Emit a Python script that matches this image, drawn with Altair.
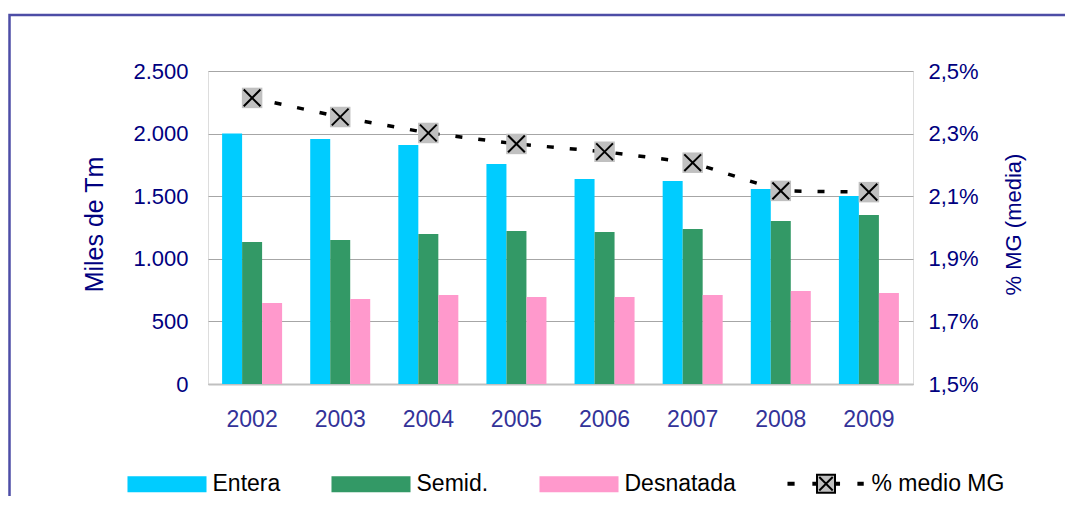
import altair as alt
import pandas as pd

# ---- data ----
years = ["2002", "2003", "2004", "2005", "2006", "2007", "2008", "2009"]
entera = [2000, 1957, 1909, 1757, 1637, 1621, 1557, 1501]
semid = [1134, 1150, 1198, 1222, 1214, 1238, 1302, 1350]
desnatada = [647, 679, 711, 695, 695, 711, 743, 727]
mg_pct = [2.414, 2.353, 2.302, 2.267, 2.242, 2.207, 2.117, 2.113]

bar_series = ["Entera", "Semid.", "Desnatada"]
line_series = "% medio MG"
all_series = bar_series + [line_series]

fill_colors = ["#00CCFF", "#339966", "#FF99CC", "#C0C0C0"]
stroke_colors = ["#00CCFF", "#339966", "#FF99CC", "#000000"]

rect_path = "M-0.975,-0.177H0.975V0.177H-0.975Z"
line_legend_path = (
    "M-0.95,-0.025H-0.82V0.025H-0.95Z "
    "M-0.32,-0.025H-0.26V0.025H-0.32Z "
    "M-0.228,-0.228H0.228V0.228H-0.228Z "
    "M-0.17,-0.17L0.17,0.17M0.17,-0.17L-0.17,0.17 "
    "M0.26,-0.025H0.33V0.025H0.26Z "
    "M0.82,-0.025H0.93V0.025H0.82Z"
)
shape_range = [rect_path, rect_path, rect_path, line_legend_path]

FONT = "Liberation Sans"
NAVY = "#000080"

rows = []
for i, y in enumerate(years):
    rows.append({"year": y, "series": "Entera", "value": entera[i]})
    rows.append({"year": y, "series": "Semid.", "value": semid[i]})
    rows.append({"year": y, "series": "Desnatada", "value": desnatada[i]})
bars_df = pd.DataFrame(rows)
line_df = pd.DataFrame({"year": years, "pct": mg_pct, "series": [line_series] * len(years)})

x_scale = alt.Scale(paddingInner=0.319, paddingOuter=0.16)
x_axis = alt.Axis(
    title=None, labelAngle=0, labelFontSize=23, labelColor="#333399", labelFont=FONT,
    ticks=False, domainColor="#C0C0C0", domainWidth=2, labelPadding=24, grid=False,
)

legend = alt.Legend(
    title=None, orient="none", legendX=-81.5, legendY=372, direction="horizontal",
    symbolSize=6241, symbolStrokeWidth=2, symbolOpacity=1, columnPadding=47, labelOffset=5,
    labelFontSize=23, labelFont=FONT, labelColor="#000000", padding=0, offset=0,
)

fill_enc = alt.Fill("series:N", scale=alt.Scale(domain=all_series, range=fill_colors), legend=legend)

bars = alt.Chart(bars_df).mark_bar(opacity=1).encode(
    x=alt.X("year:N", scale=x_scale, axis=x_axis),
    xOffset=alt.XOffset("series:N", sort=bar_series,
                        scale=alt.Scale(domain=bar_series, paddingInner=0, paddingOuter=0)),
    y=alt.Y("value:Q", scale=alt.Scale(domain=[0, 2500]),
            axis=alt.Axis(
                values=[0, 500, 1000, 1500, 2000, 2500],
                labelExpr="replace(format(datum.value, ','), ',', '.')",
                ticks=False, domain=False, grid=True, gridColor="#A6A6A6", gridWidth=1,
                labelFontSize=22, labelColor=NAVY, labelFont=FONT, labelPadding=20,
                title="Miles de Tm", titleFontSize=25, titleColor=NAVY, titleFont=FONT,
                titleFontWeight="normal", titleX=-114, titleY=153, titleAngle=270,
                titleAlign="center", titleBaseline="middle",
            )),
    fill=fill_enc,
)

pct_y = alt.Y("pct:Q", scale=alt.Scale(domain=[1.5, 2.5]),
              axis=alt.Axis(
                  orient="right", values=[1.5, 1.7, 1.9, 2.1, 2.3, 2.5],
                  labelExpr="replace(format(datum.value, '.1f'), '.', ',') + '%'",
                  ticks=False, domain=False, grid=False,
                  labelFontSize=22, labelColor=NAVY, labelFont=FONT, labelPadding=15,
                  title="% MG (media)", titleFontSize=22, titleColor=NAVY, titleFont=FONT,
                  titleFontWeight="normal", titleX=100, titleY=153, titleAngle=270,
                  titleAlign="center", titleBaseline="middle",
              ))
x_line = alt.X("year:N", scale=x_scale, axis=x_axis)

line = alt.Chart(line_df).mark_line(
    color="#000000", strokeWidth=3.5, strokeDash=[7, 16]
).encode(x=x_line, y=pct_y)

squares = alt.Chart(line_df).mark_point(
    shape="square", filled=True, fill="#C0C0C0", opacity=1, size=420, strokeWidth=0
).encode(x=x_line, y=pct_y)

crosses = alt.Chart(line_df).mark_point(
    shape="M-1,-1L1,1M1,-1L-1,1", filled=False, stroke="#000000", strokeWidth=2,
    opacity=1, size=280
).encode(x=x_line, y=pct_y)

# legend carrier (no marks drawn; provides merged legend symbols)
carrier = alt.Chart(line_df).transform_filter("false").mark_point(filled=True, opacity=1).encode(
    fill=fill_enc,
    stroke=alt.Stroke("series:N", scale=alt.Scale(domain=all_series, range=stroke_colors), legend=legend),
    shape=alt.Shape("series:N", scale=alt.Scale(domain=all_series, range=shape_range), legend=legend),
)

right_layer = alt.layer(line, squares, crosses, carrier)

border = alt.Chart(pd.DataFrame({"a": [0]})).mark_rect(
    fillOpacity=0, stroke="#4D4DA6", strokeWidth=2.5
).encode(x=alt.value(-198.5), x2=alt.value(900), y=alt.value(-56), y2=alt.value(480))

chart = alt.layer(bars, right_layer, border).resolve_scale(y="independent").properties(
    width=705, height=313,
    autosize=alt.AutoSizeParams(type="none"),
    padding={"left": 200, "top": 63, "right": 152, "bottom": 112},
).configure_view(stroke=None).configure(font=FONT)

chart.save("out.html", embed_options={"renderer": "svg", "actions": False})
